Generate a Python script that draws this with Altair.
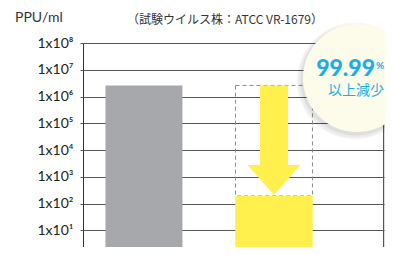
import altair as alt
import pandas as pd

# ---- data ----
groups = ["対照", "試験"]
values = [2.6e6, 1.9e2]
bar_colors = ["#a7a8ab", "#fff04e"]
tick_values = [1e1, 1e2, 1e3, 1e4, 1e5, 1e6, 1e7, 1e8]
title_text = "（試験ウイルス株：ATCC VR-1679）"
unit_text = "PPU/ml"
badge_main = "99.99"
badge_pct = "%"
badge_sub = "以上減少"
arrow_top = 2.6e6
arrow_shaft_bottom = 2.7e3
arrow_head_center = 7.5e2
y_floor = 10 ** 0.374

W, H = 301, 204
FONT = "Lato"
CJK = "Noto Sans CJK JP"
CYAN = "#1aaee5"

bars_df = pd.DataFrame({"g": groups, "v": values, "c": bar_colors})
box_df = pd.DataFrame({"g": [groups[1]], "top": [values[0]], "bot": [values[1]]})
shaft_df = pd.DataFrame({"g": [groups[1]], "top": [arrow_top], "bot": [arrow_shaft_bottom]})
head_df = pd.DataFrame({"g": [groups[1]], "v": [arrow_head_center]})

xscale = alt.Scale(domain=groups, paddingInner=0.408, paddingOuter=0.3615, align=0.239)
yscale = alt.Scale(type="log", domain=[y_floor, 1e8], nice=False)

label_expr = ("'1x10' + ['⁰','¹','²','³','⁴','⁵','⁶','⁷','⁸'][round(log(datum.value)/LN10)]")

yaxis = alt.Axis(values=tick_values, labelExpr=label_expr, title=None, grid=True,
                 gridColor="#555", gridWidth=1, domainColor="#333", tickColor="#555",
                 tickSize=3, labelPadding=7, labelFont=FONT, labelFontSize=14,
                 labelColor="#222")
xenc = alt.X("g:N", scale=xscale, axis=None, sort=groups)

bars = alt.Chart(bars_df).mark_bar().encode(
    x=xenc,
    y=alt.Y("v:Q", scale=yscale, axis=yaxis),
    y2=alt.datum(y_floor),
    color=alt.Color("c:N", scale=None),
)

box = alt.Chart(box_df).mark_bar(fill=None, fillOpacity=0, stroke="#888", strokeWidth=1,
                                 strokeDash=[4, 3]).encode(
    x=xenc, y=alt.Y("top:Q", scale=yscale), y2="bot:Q")

yellow_again = alt.Chart(bars_df.iloc[[1]]).mark_bar(color=bar_colors[1]).encode(
    x=xenc, y=alt.Y("v:Q", scale=yscale), y2=alt.datum(y_floor))

shaft = alt.Chart(shaft_df).mark_bar(size=28, color=bar_colors[1]).encode(
    x=xenc, y=alt.Y("top:Q", scale=yscale), y2="bot:Q")

head = alt.Chart(head_df).mark_point(
    shape="M-1,-0.566L1,-0.566L0,0.566Z", size=53 * 53, filled=True, opacity=1,
    color=bar_colors[1], strokeWidth=0).encode(
    x=xenc, y=alt.Y("v:Q", scale=yscale))

frame = alt.Chart(pd.DataFrame({"a": [0]})).mark_rule(color="#555", strokeWidth=1).encode(
    x=alt.value(W - 0.5), y=alt.value(0), y2=alt.value(H))

def circ(dx, dy, r, color, op):
    return alt.Chart(pd.DataFrame({"a": [0]})).mark_circle(
        size=(2 * r) ** 2, color=color, opacity=op).encode(
        x=alt.value(274 + dx), y=alt.value(35 + dy))

shadows = [circ(-2, 3, 58.5, "#000", 0.03), circ(-2, 3, 57, "#000", 0.045),
           circ(-1, 2, 55.5, "#000", 0.06)]
badge = circ(0, 0, 54, "#fdfbe9", 1)

def txt(s, x, y, size, color, font=FONT, weight="normal", align="center", baseline="alphabetic"):
    return alt.Chart(pd.DataFrame({"t": [s]})).mark_text(
        fontSize=size, color=color, font=font, fontWeight=weight, align=align,
        baseline=baseline).encode(text="t:N", x=alt.value(x), y=alt.value(y))

texts = [
    txt(badge_main, 292, 33, 23, CYAN, weight=900, align="right"),
    txt(badge_pct, 293, 26, 10, CYAN, weight="bold", align="left"),
    txt(badge_sub, 273, 48, 14, CYAN, font=CJK, baseline="middle"),
    txt(unit_text, -68, -25, 14, "#333", align="left", baseline="middle"),
    txt(title_text, 142, -23, 12, "#333", font=CJK, baseline="middle"),
]

chart = alt.layer(bars, box, yellow_again, shaft, head, frame, *shadows, badge, *texts).properties(
    width=W, height=H,
    padding={"left": 75, "top": 35, "right": 1, "bottom": 0},
    autosize=alt.AutoSizeParams(type="none"),
).configure_view(stroke=None).configure(background="white")

chart.save("out.html", embed_options={"renderer": "svg", "actions": False})
